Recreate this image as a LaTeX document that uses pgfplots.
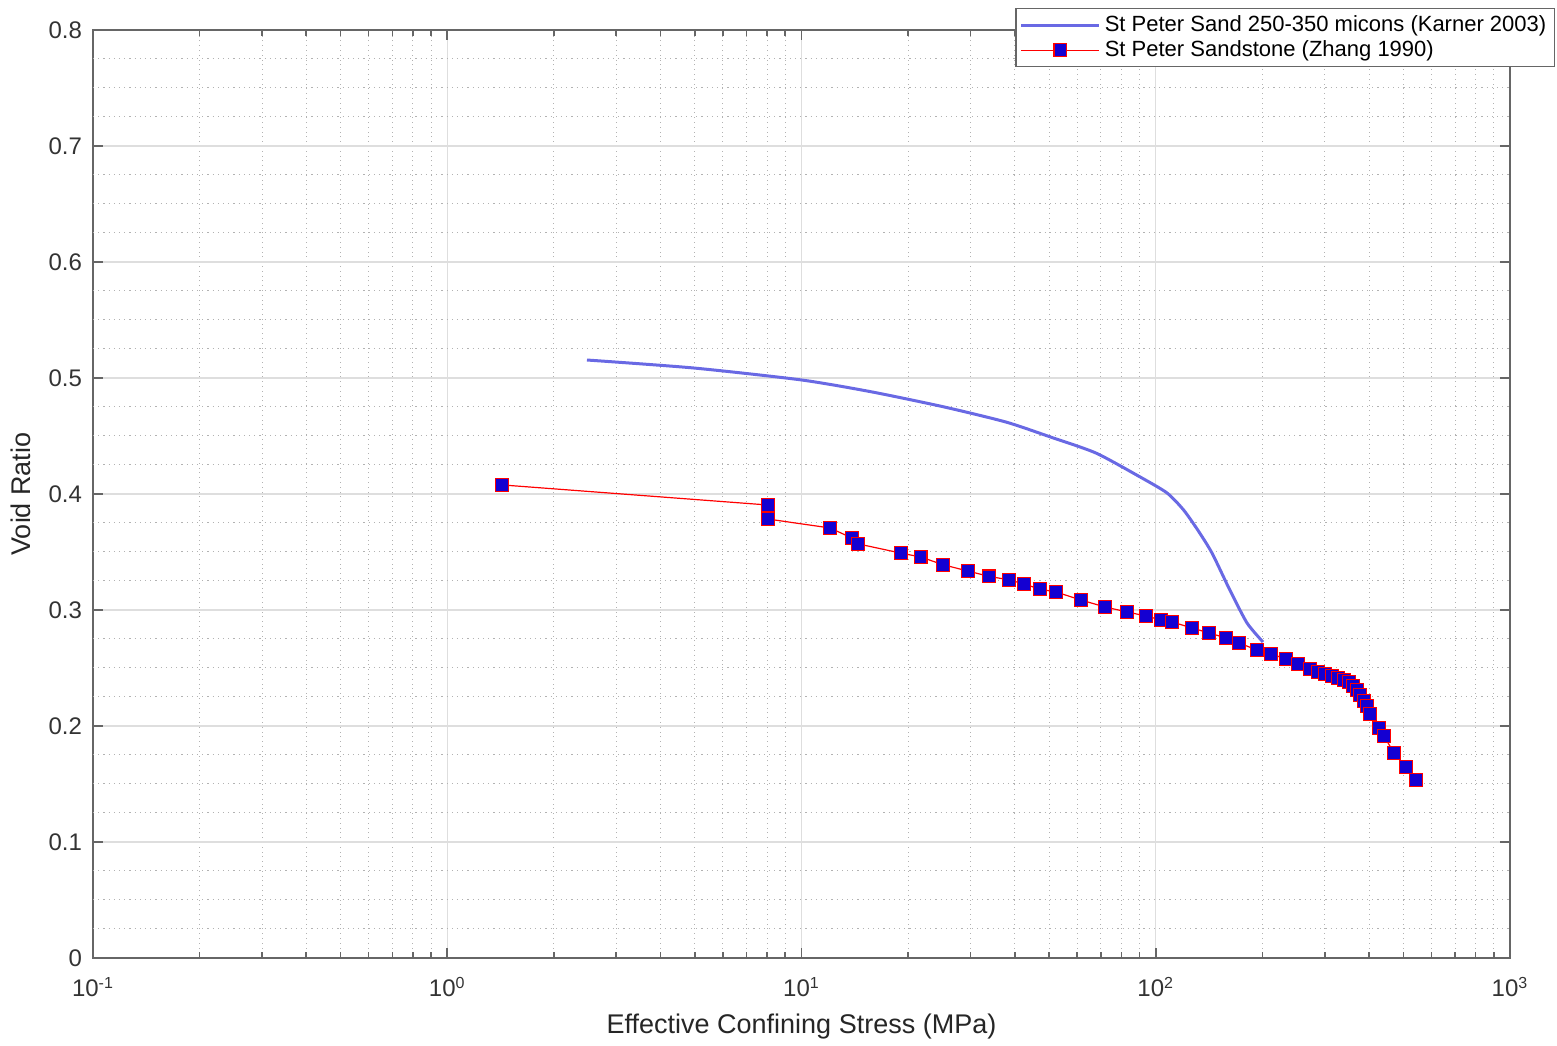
\documentclass[border=0pt]{standalone}
\usepackage{fontspec}
\setmainfont{Liberation Sans}
\usepackage{pgfplots}
\pgfplotsset{compat=1.18}
\definecolor{karner}{RGB}{105,105,228}
\definecolor{mkfill}{RGB}{20,0,210}
\begin{document}
\begin{tikzpicture}
\begin{axis}[name=ax, scale only axis, width=708.5pt, height=464pt,
  xmode=log, xmin=0.1, xmax=1000, ymin=0, ymax=0.8,
  xtick={0.1,1,10,100,1000},
  xticklabels={10\textsuperscript{-1},10\textsuperscript{0},10\textsuperscript{1},10\textsuperscript{2},10\textsuperscript{3}},
  ytick={0,0.1,0.2,0.3,0.4,0.5,0.6,0.7,0.8},
  yticklabels={0,0.1,0.2,0.3,0.4,0.5,0.6,0.7,0.8},
  extra y ticks={0.025,0.05,0.075,0.125,0.15,0.175,0.225,0.25,0.275,0.325,0.35,0.375,0.425,0.45,0.475,0.525,0.55,0.575,0.625,0.65,0.675,0.725,0.75,0.775},
  extra y tick labels={},
  extra y tick style={grid=major, major grid style={color=black!30, dotted, line width=0.5pt}, major tick length=0pt},
  xmajorgrids, xminorgrids, ymajorgrids,
  major grid style={color=black!13, line width=0.6pt},
  minor grid style={color=black!30, dotted, line width=0.5pt},
  tick align=inside,
  axis line style={color=black!60, line width=0.9pt},
  tick style={color=black!60, line width=0.8pt},
  major tick length=5pt, minor tick length=3pt,
  ticklabel style={font=\fontsize{12}{14}\selectfont, color=black!80},
  xticklabel style={yshift=-6pt},
  yticklabel style={xshift=-2pt},
  xlabel={Effective Confining Stress (MPa)},
  ylabel={Void Ratio},
  label style={font=\fontsize{13.5}{15}\selectfont, color=black!85},
  xlabel style={yshift=-1.5pt},
  ylabel style={yshift=2pt},
  legend style={at={(1,1)}, anchor=north east, xshift=22.5pt, yshift=11pt,
    draw=black!60, line width=0.7pt, fill=white, font=\fontsize{11}{12}\selectfont,
    cells={anchor=west}, row sep=-1pt, inner xsep=2pt, inner ysep=1.5pt},
  legend image code/.code={\draw[mark repeat=2, mark phase=2, #1] plot coordinates {(0pt,0pt) (19.5pt,0pt) (39pt,0pt)};},
]
\addplot[color=karner, line width=1.5pt, no marks, smooth, tension=0.4] coordinates {
(2.48,0.5155) (4.97,0.5086) (10.0,0.4983) (15.8,0.488) (25.3,0.475) (37.8,0.462)
(50.6,0.449) (67.8,0.4353) (90.3,0.4147) (107.6,0.4009) (120.0,0.386) (132.0,0.368) (144.2,0.349)
(162.0,0.317) (181.0,0.2888) (200.8,0.2724)
};
\addlegendentry{St Peter Sand 250-350 micons (Karner 2003)}
\addplot[color=red, line width=0.6pt, mark=square*, mark size=3.2pt,
  mark options={fill=mkfill, draw=red, line width=0.6pt}] coordinates {
(1.43,0.4078) (8.04,0.3905) (8.04,0.3784) (12.04,0.3707) (13.89,0.362) (14.44,0.357)
(19.1,0.349) (21.7,0.3457) (25.1,0.339) (29.5,0.3336) (33.8,0.329) (38.5,0.326)
(42.5,0.3224) (47.1,0.318) (52.3,0.3155) (61.5,0.3086) (71.9,0.3026) (83.0,0.2983)
(93.9,0.2948) (103.5,0.2914) (111.1,0.2897) (126.6,0.2845) (141.4,0.2802) (157.9,0.2759)
(171.7,0.2716) (193.1,0.2655) (211.5,0.2621) (233.1,0.2578) (252.1,0.2534) (272.5,0.2491)
(287.1,0.2466) (300.5,0.2448) (314.5,0.2431) (326.9,0.2414) (339.9,0.2397) (351.1,0.2379)
(360.4,0.2345) (369.8,0.231) (377.1,0.2267) (387.1,0.2216) (394.7,0.2172) (402.5,0.2103)
(426.7,0.1983) (440.8,0.1914) (470.4,0.1767) (508.6,0.1647) (542.6,0.1534)
};
\addlegendentry{St Peter Sandstone (Zhang 1990)}
\end{axis}
\path (ax.south west) ++(-46.5pt,-42.5pt);
\path (ax.north east) ++(23.5pt,15pt);
\end{tikzpicture}
\end{document}
